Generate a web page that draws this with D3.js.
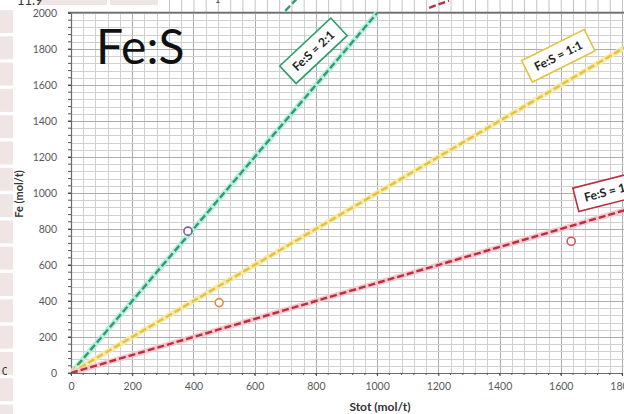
<!DOCTYPE html>
<html>
<head>
<meta charset="utf-8">
<script src="https://cdn.jsdelivr.net/npm/d3@7"></script>
<style>
  html, body { margin: 0; padding: 0; background: #fff; }
  svg { display: block; }
  text { font-family: "Lato", "Open Sans", sans-serif; }
</style>
</head>
<body>
<svg id="chart" width="624" height="414"></svg>
<script>
// Fe against total sulphur, with reference ratio lines
const xTicks = [0, 200, 400, 600, 800, 1000, 1200, 1400, 1600, 1800];
const yTicks = [0, 200, 400, 600, 800, 1000, 1200, 1400, 1600, 1800, 2000];
const ratioNames = ["Fe:S = 2:1", "Fe:S = 1:1", "Fe:S = 1:2"];
const ratioValues = [2, 1, 0.5];
const ratioLabelS = [792, 1592, 1760];
const ratioLabelFe = [1790, 1762, 1010];
const sampleS = [382, 484, 1634];
const sampleFe = [788, 391, 732];

const W = 624, H = 414;
const svg = d3.select("#chart");

const x = d3.scaleLinear().domain([0, 1800]).range([71, 622]);
const y = d3.scaleLinear().domain([0, 2000]).range([373, 13]);

const lineColors = ["#2f9d6c", "#e3c23e", "#b8303f"];
const haloColors = ["#b3ece0", "#f6e9a6", "#f5c3cb"];
const sampleColors = ["#7c5ea6", "#e8893b", "#d5535a"];

// spreadsheet cells showing at the edges
const cellRows = d3.range(10, H, 26.3);
svg.selectAll("rect.cell").data(cellRows).join("rect")
  .attr("x", 0).attr("y", d => d).attr("width", 13).attr("height", 23)
  .attr("fill", "#f0e5e5");
svg.append("rect").attr("x", 37).attr("y", 0).attr("width", 70).attr("height", 5).attr("fill", "#f0e5e5");
svg.append("rect").attr("x", 110).attr("y", 0).attr("width", 48).attr("height", 5).attr("fill", "#f0e5e5");
svg.append("text").attr("x", 17).attr("y", 5).attr("font-size", 13).attr("fill", "#333").text("11.9");
svg.append("clipPath").attr("id", "cellclip").append("rect").attr("x", 0).attr("y", 350).attr("width", 7).attr("height", 40);
svg.append("text").attr("clip-path", "url(#cellclip)").attr("x", 2).attr("y", 375)
  .attr("font-size", 12).attr("fill", "#333").text("0");

// bottom edge of the panel above
const stripMinor = d3.range(0, 1801, 40).filter(v => x(v) > 160);
svg.selectAll("line.strip").data(stripMinor).join("line")
  .attr("x1", d => x(d) + 0.5).attr("x2", d => x(d) + 0.5)
  .attr("y1", 0).attr("y2", 12)
  .attr("stroke", "#c4c4c4").attr("stroke-width", 1);
const stripS = [[700, 745], [1170, 1235]];
const stripY = d3.scaleLinear().domain([0, 1]).range([12, 0]);
svg.append("line").attr("x1", x(stripS[0][0])).attr("y1", stripY(0.1)).attr("x2", x(stripS[0][1])).attr("y2", stripY(1.3))
  .attr("stroke", lineColors[0]).attr("stroke-width", 2.4).attr("stroke-dasharray", "7,3");
svg.append("line").attr("x1", x(stripS[1][0])).attr("y1", stripY(0.35)).attr("x2", x(stripS[1][1])).attr("y2", stripY(0.95))
  .attr("stroke", lineColors[2]).attr("stroke-width", 2.4).attr("stroke-dasharray", "7,3");
svg.append("text").attr("x", 215).attr("y", 3).attr("font-size", 9).attr("fill", "#444").text("1");

// plot area
const plot = svg.append("g");
svg.append("clipPath").attr("id", "plotclip").append("rect")
  .attr("x", x(0)).attr("y", 12).attr("width", W - x(0)).attr("height", y(0) - 12);

const grid = plot.append("g").attr("clip-path", "url(#plotclip)");
const minorX = d3.range(0, 1841, 40);
const minorY = d3.range(0, 2001, 40);
grid.selectAll("line.vx").data(minorX).join("line")
  .attr("x1", d => Math.round(x(d)) + 0.5).attr("x2", d => Math.round(x(d)) + 0.5)
  .attr("y1", y(2000)).attr("y2", y(0))
  .attr("stroke", d => d % 200 === 0 ? "#acacac" : "#d0d0d0").attr("stroke-width", 1);
grid.selectAll("line.hy").data(minorY).join("line")
  .attr("x1", x(0)).attr("x2", W)
  .attr("y1", d => Math.round(y(d)) + 0.5).attr("y2", d => Math.round(y(d)) + 0.5)
  .attr("stroke", d => d % 200 === 0 ? "#acacac" : "#d0d0d0").attr("stroke-width", 1);

// top border
plot.append("line").attr("x1", 68).attr("x2", W).attr("y1", 12.5).attr("y2", 12.5)
  .attr("stroke", "#6e6e6e").attr("stroke-width", 1.5);

// axes
const fmt = d3.format("d");
const xAxis = plot.append("g").attr("transform", `translate(0,${y(0)})`)
  .call(d3.axisBottom(x).tickValues(xTicks).tickFormat(fmt).tickSize(3).tickSizeOuter(0).tickPadding(7));
const yAxis = plot.append("g").attr("transform", `translate(${x(0)},0)`)
  .call(d3.axisLeft(y).tickValues(yTicks).tickFormat(fmt).tickSize(3).tickSizeOuter(0).tickPadding(11));
[xAxis, yAxis].forEach(a => {
  a.select(".domain").attr("stroke", "#6a6a6a").attr("stroke-width", 1.2);
  a.selectAll(".tick line").attr("stroke", "#444");
  a.selectAll(".tick text").attr("font-family", "Liberation Serif, serif").attr("font-size", 10.5).attr("fill", "#5a5a5a");
});
// minor tick marks
plot.append("g").selectAll("line").data(minorX.filter(v => v <= 1800)).join("line")
  .attr("x1", d => x(d)).attr("x2", d => x(d)).attr("y1", y(0)).attr("y2", y(0) + 2)
  .attr("stroke", "#555");
plot.append("g").selectAll("line").data(minorY).join("line")
  .attr("x1", x(0) - 3).attr("x2", x(0)).attr("y1", d => y(d)).attr("y2", d => y(d))
  .attr("stroke", "#555");

// axis titles
svg.append("text").attr("transform", "translate(23,194) rotate(-90)")
  .attr("text-anchor", "middle").attr("font-size", 11).attr("font-weight", "bold").attr("fill", "#333")
  .text("Fe (mol/t)");
svg.append("text").attr("x", 380).attr("y", 411).attr("text-anchor", "middle")
  .attr("font-size", 12).attr("font-weight", "bold").attr("fill", "#333").text("Stot (mol/t)");

// ratio lines: Fe = ratio * S
const lines = plot.append("g").attr("clip-path", "url(#plotclip)");
ratioValues.forEach((r, i) => {
  const sEnd = Math.min(1900, 2000 / r);
  const path = d3.line().x(d => x(d[0])).y(d => y(d[1]))([[0, 0], [sEnd, r * sEnd]]);
  lines.append("path").attr("d", path).attr("fill", "none")
    .attr("stroke", haloColors[i]).attr("stroke-width", 5.5).attr("stroke-opacity", 0.9);
  lines.append("path").attr("d", path).attr("fill", "none")
    .attr("stroke", lineColors[i]).attr("stroke-width", 2.4).attr("stroke-dasharray", "7,3");
});

// samples
plot.selectAll("circle.s").data(sampleS).join("circle")
  .attr("cx", d => x(d)).attr("cy", (d, i) => y(sampleFe[i])).attr("r", 4)
  .attr("fill", "#fff").attr("stroke", (d, i) => sampleColors[i]).attr("stroke-width", 1.6);

// ratio labels, tilted along their lines
ratioNames.forEach((name, i) => {
  const slope = (y(0) - y(ratioValues[i] * 1000)) / (x(1000) - x(0));
  const ang = -Math.atan(slope) * 180 / Math.PI * 0.87;
  const g = svg.append("g")
    .attr("transform", `translate(${x(ratioLabelS[i])},${y(ratioLabelFe[i])}) rotate(${ang})`);
  g.append("rect").attr("x", -35).attr("y", -12).attr("width", 70).attr("height", 24)
    .attr("fill", "#fff").attr("stroke", lineColors[i]).attr("stroke-width", 1.6);
  g.append("text").attr("text-anchor", "middle").attr("dy", "0.35em")
    .attr("font-size", 12).attr("font-weight", "bold").attr("fill", "#222").text(name);
});

// panel title
svg.append("text").attr("x", 96).attr("y", 64).attr("font-size", 48).attr("fill", "#111").text("Fe:S");
</script>
</body>
</html>
